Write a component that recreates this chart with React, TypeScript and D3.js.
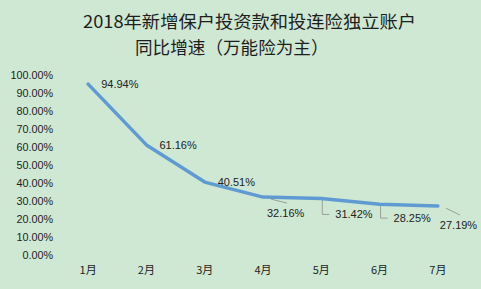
import React from "react";
import * as d3 from "d3";

const months = ["1月", "2月", "3月", "4月", "5月", "6月", "7月"];
const growth = [0.9494, 0.6116, 0.4051, 0.3216, 0.3142, 0.2825, 0.2719];
const yTicks = [0, 0.1, 0.2, 0.3, 0.4, 0.5, 0.6, 0.7, 0.8, 0.9, 1.0];
const titleLines = ["2018年新增保户投资款和投连险独立账户", "同比增速（万能险为主）"];

// label layout offsets (dx, dy from point) and leader style
const labelOffsets: [number, number, string][] = [
  [13, 0, "none"],
  [13, 0, "none"],
  [13, 0, "none"],
  [4, 16, "diag"],
  [14, 16, "elbow"],
  [14, 14, "elbow"],
  [2, 19, "diag"],
];

export default function App() {
  const W = 481, H = 289;
  const x = d3.scaleBand<string>().domain(months).range([59, 467]);
  const y = d3.scaleLinear().domain([0, 1]).range([255, 75]);
  const cx = (m: string) => (x(m) as number) + x.bandwidth() / 2;
  const line = d3
    .line<number>()
    .x((_, i) => cx(months[i]))
    .y((d) => y(d));
  const font = "'Liberation Sans', Arial, sans-serif";
  return (
    <svg width={W} height={H} style={{ position: "absolute", left: 0, top: 0 }}>
      <rect x={0} y={0} width={W} height={H} fill="#cfe8d3" />
      <text x={83} y={28} fontSize={17.6} fill="#1e1e1e" fontFamily="'Noto Sans CJK SC', sans-serif" textLength={333} lengthAdjust="spacingAndGlyphs">
        {titleLines[0]}
      </text>
      <text x={135} y={53.5} fontSize={17.6} fill="#1e1e1e" fontFamily="'Noto Sans CJK SC', sans-serif">
        {titleLines[1]}
      </text>
      {yTicks.map((t) => (
        <text key={t} x={53} y={y(t)} dy="0.35em" textAnchor="end" fontSize={10.8} fill="#222" fontFamily={font}>
          {d3.format(".2%")(t)}
        </text>
      ))}
      {months.map((m) => (
        <text key={m} x={cx(m)} y={270} dy="0.35em" textAnchor="middle" fontSize={11} fill="#222" fontFamily="'Noto Sans CJK SC', sans-serif">
          {m}
        </text>
      ))}
      {growth.map((v, i) => {
        const px = cx(months[i]);
        const py = y(v);
        const [dx, dy, kind] = labelOffsets[i];
        const lx = px + dx;
        const ly = py + dy;
        let leader: React.ReactNode = null;
        if (kind === "diag") {
          leader = <line x1={px + 8} y1={py + 2} x2={lx + 20} y2={ly - 10} stroke="#9aa09a" strokeWidth={1} />;
        } else if (kind === "elbow") {
          leader = (
            <polyline
              points={`${px + 1},${py + 1} ${px + 1},${ly} ${px + 8},${ly}`}
              fill="none"
              stroke="#9aa09a"
              strokeWidth={1}
            />
          );
        }
        return (
          <g key={i}>
            {leader}
            <text x={lx} y={ly} dy="0.35em" fontSize={11} fill="#222" fontFamily={font}>
              {d3.format(".2%")(v)}
            </text>
          </g>
        );
      })}
      <path d={line(growth) as string} fill="none" stroke="#5f9bd2" strokeWidth={3.5} strokeLinejoin="round" strokeLinecap="round" />
    </svg>
  );
}
